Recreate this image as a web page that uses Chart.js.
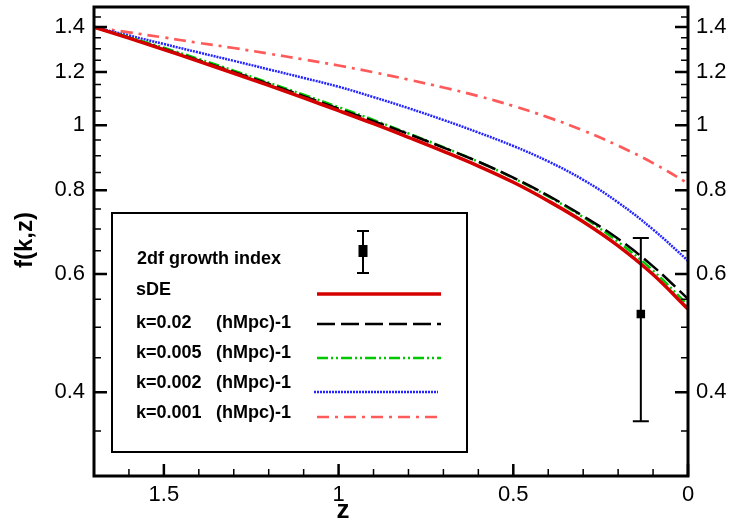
<!DOCTYPE html>
<html>
<head>
<meta charset="utf-8">
<script src="https://cdn.jsdelivr.net/npm/chart.js@4.4.1/dist/chart.umd.min.js"></script>
<style>
  html, body { margin: 0; padding: 0; background: #fff; }
  #chart { display: block; }
</style>
</head>
<body>
<canvas id="chart" width="732" height="520"></canvas>
<script>
// redshift grid
const zValues = [1.7, 1.6, 1.5, 1.4, 1.3, 1.2, 1.1, 1.0, 0.9, 0.8, 0.7, 0.6, 0.5, 0.4, 0.3, 0.2, 0.1, 0.0];

const sDE   = [1.400, 1.348, 1.296, 1.245, 1.195, 1.146, 1.098, 1.051, 1.005, 0.959, 0.914, 0.869, 0.822, 0.771, 0.718, 0.661, 0.599, 0.532];
const k0020 = [1.400, 1.349, 1.299, 1.249, 1.200, 1.152, 1.105, 1.058, 1.014, 0.970, 0.926, 0.882, 0.835, 0.785, 0.732, 0.677, 0.616, 0.551];
const k0005 = [1.400, 1.353, 1.304, 1.255, 1.206, 1.157, 1.110, 1.064, 1.018, 0.972, 0.927, 0.882, 0.834, 0.783, 0.729, 0.670, 0.607, 0.539];
const k0002 = [1.400, 1.360, 1.321, 1.283, 1.247, 1.211, 1.176, 1.141, 1.101, 1.060, 1.018, 0.975, 0.931, 0.883, 0.829, 0.767, 0.699, 0.628];
const k0001 = [1.400, 1.375, 1.351, 1.326, 1.303, 1.278, 1.253, 1.227, 1.199, 1.169, 1.138, 1.105, 1.068, 1.027, 0.982, 0.932, 0.878, 0.819];

// 2dF growth index point
const obsZ = [0.135];
const obsF = [0.523];
const obsLow = [0.362];
const obsHigh = [0.679];

// axis ticks
const xTicks = [0, 0.5, 1, 1.5];
const xMinorTicks = [0.1, 0.2, 0.3, 0.4, 0.6, 0.7, 0.8, 0.9, 1.1, 1.2, 1.3, 1.4, 1.6];
const yTicks = [0.4, 0.6, 0.8, 1, 1.2, 1.4];
const yMinorTicks = [0.35, 0.45, 0.5, 0.55, 0.65, 0.7, 0.75, 0.85, 0.9, 0.95, 1.05, 1.1, 1.15, 1.25, 1.3, 1.35, 1.45];

const FONT = "'Liberation Sans', Arial, sans-serif";

const series = [
  { label: "sDE", data: sDE, color: "#d40000", width: 3.5, dash: [] },
  { label: "k=0.02", data: k0020, color: "#000000", width: 2.5, dash: [18, 6] },
  { label: "k=0.005", data: k0005, color: "#00c800", width: 2.5, dash: [11, 3, 2, 3, 2, 3] },
  { label: "k=0.002", data: k0002, color: "#2424ff", width: 2.5, dash: [2, 1] },
  { label: "k=0.001", data: k0001, color: "#ff5a5a", width: 2.7, dash: [12, 6, 3, 6] }
];

function toPoints(values) {
  return zValues.map((z, i) => ({ x: z, y: values[i] }));
}

const datasets = series.map(s => ({
  label: s.label,
  data: toPoints(s.data),
  borderColor: s.color,
  borderWidth: s.width,
  borderDash: s.dash,
  pointRadius: 0,
  tension: 0.4,
  fill: false
}));

datasets.unshift({
  label: "2df growth index",
  data: obsZ.map((z, i) => ({ x: z, y: obsF[i] })),
  showLine: false,
  pointStyle: "rect",
  pointRadius: 6,
  backgroundColor: "#000",
  borderColor: "#000",
  borderWidth: 0
});

function fixWidth(w) {
  return scale => { scale.width = w; scale.paddingTop = 0; scale.paddingBottom = 0; };
}

const logAxis = (pos) => ({
  type: "logarithmic",
  position: pos,
  min: 0.3,
  max: 1.5,
  grid: { display: false, drawTicks: false },
  border: { display: false },
  afterBuildTicks: scale => { scale.ticks = yTicks.map(v => ({ value: v })); },
  afterFit: fixWidth(pos === "left" ? 94 : 44),
  ticks: {
    padding: pos === "left" ? 9 : 8,
    font: { family: FONT, size: 22 },
    color: "#000",
    callback: v => String(v)
  }
});

// error bars for the 2dF point
const errorBars = {
  id: "errorBars",
  afterDatasetsDraw(chart) {
    const { ctx, scales: { x, y } } = chart;
    ctx.save();
    ctx.strokeStyle = "#000";
    ctx.lineWidth = 2;
    obsZ.forEach((z, i) => {
      const px = x.getPixelForValue(z);
      const top = y.getPixelForValue(obsHigh[i]);
      const bot = y.getPixelForValue(obsLow[i]);
      ctx.beginPath();
      ctx.moveTo(px, top); ctx.lineTo(px, bot);
      ctx.moveTo(px - 8, top); ctx.lineTo(px + 8, top);
      ctx.moveTo(px - 8, bot); ctx.lineTo(px + 8, bot);
      ctx.stroke();
    });
    ctx.restore();
  }
};

// frame, inward ticks, axis titles and legend box
const decorations = {
  id: "decorations",
  afterDraw(chart) {
    const { ctx, chartArea: a, scales: { x, y } } = chart;
    ctx.save();
    ctx.strokeStyle = "#000";

    // minor ticks
    ctx.lineWidth = 1.5;
    ctx.beginPath();
    xMinorTicks.forEach(v => {
      const px = x.getPixelForValue(v);
      ctx.moveTo(px, a.bottom); ctx.lineTo(px, a.bottom - 7);
    });
    yMinorTicks.forEach(v => {
      const py = y.getPixelForValue(v);
      ctx.moveTo(a.left, py); ctx.lineTo(a.left + 7, py);
      ctx.moveTo(a.right, py); ctx.lineTo(a.right - 7, py);
    });
    ctx.stroke();

    // major ticks
    ctx.lineWidth = 2.5;
    ctx.beginPath();
    xTicks.forEach(v => {
      const px = x.getPixelForValue(v);
      ctx.moveTo(px, a.bottom); ctx.lineTo(px, a.bottom - 12);
    });
    yTicks.forEach(v => {
      const py = y.getPixelForValue(v);
      ctx.moveTo(a.left, py); ctx.lineTo(a.left + 13, py);
      ctx.moveTo(a.right, py); ctx.lineTo(a.right - 13, py);
    });
    ctx.stroke();

    // frame
    ctx.lineWidth = 3;
    ctx.strokeRect(a.left, a.top, a.right - a.left, a.bottom - a.top);

    // axis titles
    ctx.fillStyle = "#000";
    ctx.font = "bold 26px " + FONT;
    ctx.textAlign = "center";
    ctx.textBaseline = "alphabetic";
    ctx.fillText("z", 343, 518);
    ctx.save();
    ctx.translate(32, 240);
    ctx.rotate(-Math.PI / 2);
    ctx.font = "bold 24px " + FONT;
    ctx.fillText("f(k,z)", 0, 0);
    ctx.restore();

    // legend
    const L = { left: 112, top: 213, right: 467, bottom: 452 };
    ctx.fillStyle = "#fff";
    ctx.fillRect(L.left, L.top, L.right - L.left, L.bottom - L.top);
    ctx.lineWidth = 2;
    ctx.strokeStyle = "#000";
    ctx.strokeRect(L.left, L.top, L.right - L.left, L.bottom - L.top);

    ctx.fillStyle = "#000";
    ctx.font = "bold 18px " + FONT;
    ctx.textAlign = "left";
    ctx.textBaseline = "middle";
    ctx.fillText("2df growth index", 137, 259);

    // error-bar symbol
    ctx.lineWidth = 2;
    ctx.beginPath();
    ctx.moveTo(363, 231); ctx.lineTo(363, 273);
    ctx.moveTo(357, 231); ctx.lineTo(369, 231);
    ctx.moveTo(357, 273); ctx.lineTo(369, 273);
    ctx.stroke();
    ctx.fillRect(358.5, 245, 9, 12);

    const rows = [
      { text: "sDE", unit: "", ty: 290, ly: 294, x0: 317, x1: 441 },
      { text: "k=0.02", unit: "(hMpc)-1", ty: 323, ly: 324, x0: 317, x1: 441 },
      { text: "k=0.005", unit: "(hMpc)-1", ty: 353, ly: 358, x0: 317, x1: 441 },
      { text: "k=0.002", unit: "(hMpc)-1", ty: 383, ly: 392, x0: 314, x1: 438 },
      { text: "k=0.001", unit: "(hMpc)-1", ty: 413, ly: 417, x0: 317, x1: 441 }
    ];
    rows.forEach((r, i) => {
      const s = series[i];
      ctx.fillStyle = "#000";
      ctx.fillText(r.text, 136, r.ty);
      if (r.unit) ctx.fillText(r.unit, 216, r.ty);
      ctx.strokeStyle = s.color;
      ctx.lineWidth = s.width;
      ctx.setLineDash(s.dash);
      ctx.beginPath();
      ctx.moveTo(r.x0, r.ly); ctx.lineTo(r.x1, r.ly);
      ctx.stroke();
      ctx.setLineDash([]);
    });

    ctx.restore();
  }
};

new Chart(document.getElementById("chart"), {
  type: "line",
  data: { datasets },
  options: {
    responsive: false,
    animation: false,
    layout: { padding: { top: 7, left: 0, right: 0, bottom: 0 } },
    plugins: { legend: { display: false }, tooltip: { enabled: false } },
    scales: {
      x: {
        type: "linear",
        reverse: true,
        min: 0,
        max: 1.7,
        grid: { display: false, drawTicks: false },
        border: { display: false },
        afterBuildTicks: scale => { scale.ticks = xTicks.map(v => ({ value: v })); },
        afterFit: scale => { scale.height = 44; scale.paddingLeft = 0; scale.paddingRight = 0; },
        ticks: {
          padding: 6,
          maxRotation: 0,
          font: { family: FONT, size: 22 },
          color: "#000",
          callback: v => String(v)
        }
      },
      y: logAxis("left"),
      y2: logAxis("right")
    }
  },
  plugins: [errorBars, decorations]
});
</script>
</body>
</html>
